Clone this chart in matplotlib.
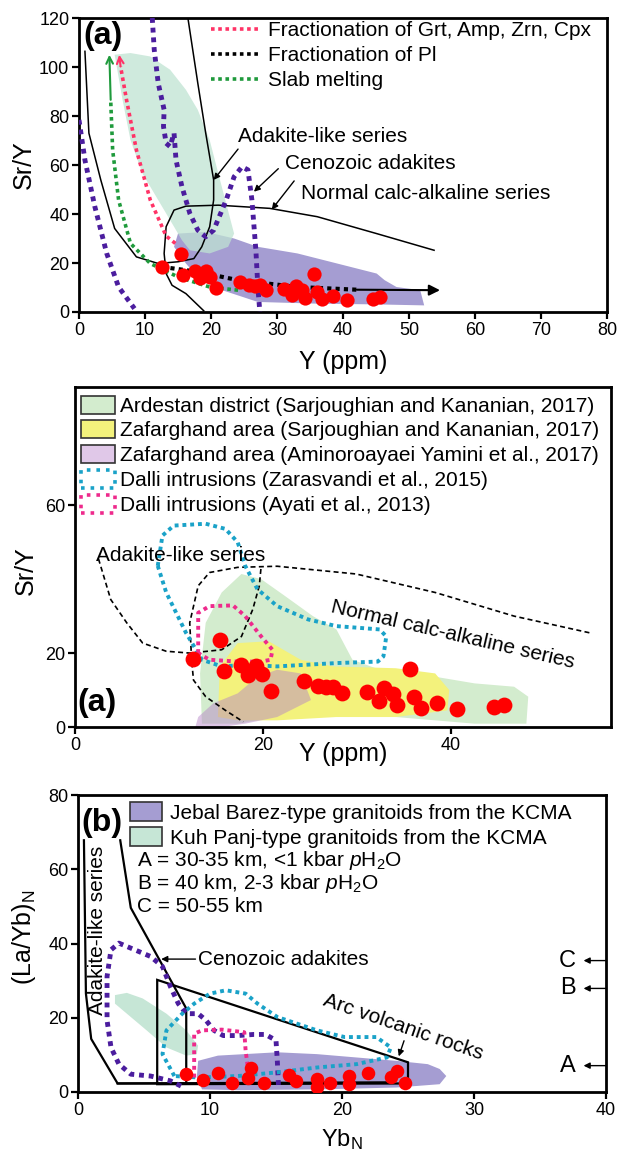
import matplotlib.pyplot as plt
from matplotlib.patches import Polygon, Patch
from matplotlib.lines import Line2D

plt.rcParams['font.family'] = ['Liberation Sans', 'DejaVu Sans']
plt.rcParams['mathtext.fontset'] = 'custom'
plt.rcParams['mathtext.rm'] = 'Liberation Sans'
plt.rcParams['mathtext.it'] = 'Liberation Sans:italic'
plt.rcParams['mathtext.bf'] = 'Liberation Sans:bold'

# --- samples, Sr/Y vs Y ---
y_ppm = [12.5, 15.4, 15.8, 17.6, 18.4, 19.2, 19.9, 20.8, 24.4, 25.8, 26.7, 27.4,
         28.4, 31.0, 32.3, 32.9, 33.8, 34.2, 35.6, 36.0, 36.8, 38.5, 40.6, 44.6, 45.6]
sr_y = [18.5, 23.6, 15.2, 16.8, 14.0, 16.6, 14.3, 9.8, 12.4, 11.2, 10.8, 10.9,
        9.1, 9.5, 7.0, 10.5, 8.8, 5.9, 15.7, 8.2, 5.2, 6.6, 5.0, 5.4, 6.0]

# --- samples, (La/Yb)N vs YbN ---
yb_n = [8.2, 9.5, 10.6, 11.7, 12.9, 13.1, 14.1, 16.0, 16.5, 18.1, 18.1, 19.1,
        20.5, 20.5, 22.0, 23.7, 24.2, 24.8]
la_yb_n = [4.8, 3.2, 5.1, 2.5, 3.9, 6.4, 2.5, 4.5, 3.0, 3.4, 1.4, 2.4,
           4.3, 2.1, 5.0, 4.1, 5.7, 2.3]

# --- top panel fields (Y, Sr/Y) ---
kuhpanj_a = [(5.4, 105), (7.8, 105.7), (10.8, 104.3), (13.8, 98.9), (16.2, 90.7),
             (18.0, 82.5), (19.8, 70.2), (21.1, 56.6), (22.3, 44.3), (23.5, 32),
             (22.6, 26.6), (19.8, 23.9), (16.8, 25.2), (15.6, 29.3), (14.4, 34.8),
             (12, 45.7), (9.6, 56.6), (7.8, 70.2), (6.6, 86.6)]
jebal_a = [(15.0, 32.0), (19.2, 32.7), (23.5, 30), (27.1, 26.6), (33.1, 23.9),
           (39.1, 19.8), (45.1, 15.7), (46.3, 13), (48.1, 10.2), (51.7, 8.9),
           (52.3, 2.7), (45.1, 3.1), (36.1, 3.4), (27.1, 4.1), (21.7, 8.9),
           (18, 14.3), (16.2, 19.8), (14.4, 26.6)]
adakite_a = [(0.9, 106.4), (1.5, 73), (3.3, 53.9), (5.4, 34.1), (8.7, 22.5),
             (12, 19.8), (15, 20.5), (17.4, 21.8), (18.6, 26.6), (19.8, 34.8),
             (20.4, 45.7), (20.4, 53.9), (19.2, 73), (18, 93.4), (16.5, 120)]
calcalk_a = [(53.8, 25.2), (45.1, 32), (36.1, 38.9), (28.9, 42.3), (21.1, 43.6),
             (16.2, 43.2), (14.4, 41.6), (13.2, 34.8), (12.9, 23.9), (13.2, 15.7),
             (14.1, 10.9), (16.2, 7.5), (18.9, 0.5)]
ceno_left_a = [(0, 78.4), (0.9, 62), (2.4, 43), (4.2, 23.9), (6, 10.2), (8.4, 1.4)]
ceno_right_a = [(11.1, 120), (11.4, 107), (12, 93.4), (12.9, 82.5), (12.8, 75.7),
                (13.2, 68.9), (13.8, 67.5), (14.4, 73), (14.7, 62), (15.6, 51.1),
                (16.8, 40.2), (18, 33.4), (19.2, 30.7), (20.4, 33.4), (22.3, 45.7),
                (23.5, 55.2), (24.7, 59.3), (25.6, 58), (26.2, 45.7), (26.8, 25.2),
                (27.1, 10.2), (27.4, 0)]
grt_trend = [(14.6, 28), (13.2, 31), (10.8, 45.7), (8.7, 66.1), (7.2, 86.6),
             (6.3, 100.2), (6.1, 105)]
slab_trend = [(24.1, 8.9), (19.8, 10.2), (15, 14.3), (10.8, 19.8), (7.8, 28),
              (6, 45.7), (5.1, 66.1), (4.8, 86.6), (4.6, 105)]
pl_trend = [(12.6, 18.4), (18, 16.4), (24.1, 13), (33.1, 10.2), (42.1, 9.1), (54.7, 8.9)]

# --- middle panel fields (Y, Sr/Y) ---
ardestan = [(13.5, 0.9), (13.3, 14.5), (13.9, 28.2), (15.6, 36.4), (17.7, 41.4),
            (19.8, 40), (22.3, 35.5), (25.3, 30), (27.8, 26.4), (29.5, 18.2),
            (32.4, 15.5), (38.3, 13.6), (42.5, 11.8), (46.7, 10.9), (48.2, 8.2),
            (48, 0.9), (42.5, 0.9), (38.3, 1.8), (29.9, 3.6), (21.5, 2.7), (17.3, 0.9)]
zafar_sk = [(15.2, 2.7), (15.4, 16.4), (17.3, 22.7), (20.6, 23.2), (24, 18.2),
            (27.4, 16.4), (34.1, 15.9), (38.3, 14.5), (39.8, 10), (39.6, 4.5),
            (34.1, 2.7), (27.8, 2.7), (21.5, 1.8), (17.3, 1.8)]
zafar_ay = [(12.8, 0), (13.1, 2.7), (14.7, 6.4), (17.3, 9.1), (19.4, 13.6),
            (21.5, 15.5), (24, 14.5), (25.1, 7.3), (21.5, 2.7), (18.1, 0.9), (15.6, 0)]
dalli_z = [(8.8, 43.6), (9.3, 51.8), (10.5, 54.5), (13.9, 55), (16, 53.6), (17.3, 50),
           (18.1, 43.6), (19.4, 37.3), (21.5, 32.7), (24.8, 29.1), (27.8, 27.3),
           (32.4, 26.4), (33.1, 24.5), (32.8, 19.1), (32.2, 17.7), (27.8, 17.3),
           (21.5, 16.4), (18.1, 16.8), (15.6, 16.4), (13.5, 18.2), (11.8, 25.5),
           (9.7, 36.4)]
dalli_a = [(13.1, 20), (13.1, 30.9), (14.3, 32.7), (16.8, 32.9), (18.1, 30),
           (19.8, 24.5), (21, 20.9), (20.8, 18.2), (19.8, 17.7), (17.3, 17.7),
           (14.3, 18.2)]
adakite_b = [(2.5, 45.5), (3.8, 34.5), (5.5, 28.2), (7.2, 22.7), (9.7, 20.5),
             (12.2, 20), (15.6, 20.9), (17.7, 24.5), (18.9, 31.8), (19.6, 38.2),
             (19.8, 43.6)]
calcalk_b = [(54.7, 25.5), (46.7, 30), (38.3, 36.4), (29.9, 41.4), (21.5, 43.5),
             (17.3, 43.2), (14.3, 41.8), (13.1, 38.2), (12.2, 28.2), (12.4, 18.2),
             (12.6, 12.7), (13.9, 8.2), (16, 4.5), (17.9, 1.4)]

# --- bottom panel fields (YbN, (La/Yb)N) ---
jebal_c = [(9.1, 8.4), (10.6, 9.8), (15.1, 10.7), (18.1, 10.2), (21.1, 9.3),
           (24.1, 8.4), (26.5, 7.5), (27.4, 6.2), (27.9, 4.3), (27.4, 2.1),
           (24.1, 1.2), (18.1, 0.7), (12.1, 0.5), (9.4, 0.7), (9, 3.9)]
kuhpanj_c = [(2.8, 26.1), (3.7, 26.7), (4.9, 25.2), (6.7, 21.1), (8.2, 16.6),
             (9.1, 12.5), (9, 10.2), (8.2, 9.8), (6.7, 12), (5.2, 16.6),
             (3.7, 21.1), (2.8, 23.8)]
adakite_c = [(0.45, 67.8), (0.6, 26.5), (1, 14.3), (3, 2.3), (8.2, 2.3),
             (8.2, 22.5), (4, 49.6), (3.2, 67.8)]
arc_c = [(6, 2.1), (6, 30.2), (25, 8), (25, 2.3)]
arc_base = [(3, 2.3), (23.7, 2.6)]
ceno_c = [(7.8, 1.6), (7, 3), (5.5, 4.3), (4, 4.8), (3.1, 7.5), (2.5, 12),
          (2.2, 19.3), (2.2, 31.1), (2.5, 38.3), (3.1, 40.1), (4.3, 38.3),
          (5.5, 36.5), (6.4, 33.8), (7, 28.4), (7.6, 23.8), (8.2, 21.1),
          (9.1, 21.1), (9.7, 19.3), (10.3, 16.6), (11, 15.2), (12.1, 15.2),
          (13.3, 15.5), (14.2, 15.5), (15, 13.9), (15.1, 8.4), (15.2, 0.7)]
dalli_z_c = [(7.3, 4.3), (6.4, 10.2), (6.7, 16.6), (7.9, 21.1), (8.8, 23.8),
             (10, 26.5), (11.2, 27.4), (12.7, 26.5), (13.6, 23.8), (15.1, 20.2),
             (18.1, 16.6), (20.2, 14.8), (22.6, 14.8), (23.7, 12), (23.4, 9.3),
             (21.1, 7.5), (18.1, 6.6), (15.1, 5.3), (12.1, 4.3), (9.1, 3.9)]
dalli_a_c = [(8.8, 3.9), (8.8, 15.7), (9.4, 16.6), (10.9, 16.8), (12.6, 16.1),
             (12.7, 11.1), (12.9, 5.7)]
depth_labels = ['C', 'B', 'A']
depth_values = [35.4, 27.9, 7.1]

PURPLE = '#4b1d9e'
RED_PT = '#ff0000'
DOT = (0, (1, 1))
FS = 15


def xy(pts):
    return [p[0] for p in pts], [p[1] for p in pts]


def dotted(ax, pts, color, lw=3.2, closed=False):
    xs, ys = xy(pts)
    if closed:
        xs, ys = xs + xs[:1], ys + ys[:1]
    ax.plot(xs, ys, color=color, lw=lw, ls=DOT, dash_capstyle='butt', zorder=3)


def arrow_end(ax, pts, color, style='-|>', lw=1.5, scale=14):
    ax.annotate('', xy=pts[-1], xytext=pts[-2],
                arrowprops=dict(arrowstyle=style, color=color, lw=lw,
                                mutation_scale=scale, shrinkA=0, shrinkB=0), zorder=4)


def pointer(ax, start, end):
    ax.annotate('', xy=end, xytext=start,
                arrowprops=dict(arrowstyle='-|>', color='black', lw=1,
                                mutation_scale=9, shrinkA=0, shrinkB=0))


def style_axes(ax):
    for s in ax.spines.values():
        s.set_linewidth(2)
    ax.tick_params(direction='out', length=5, width=1.6, labelsize=13, pad=2)


def px_axes(fig, left, top, right, bottom):
    W, H = 621, 1151
    return fig.add_axes([left / W, 1 - bottom / H, (right - left) / W, (bottom - top) / H])


fig = plt.figure(figsize=(6.21, 11.51), dpi=100)

# ---------------- top panel ----------------
ax1 = px_axes(fig, 79, 18, 607, 312)
ax1.add_patch(Polygon(jebal_a, closed=True, fc='#a59dd2', ec='none', zorder=1))
ax1.add_patch(Polygon(kuhpanj_a, closed=True, fc='#bfe3d2', ec='none', alpha=0.75, zorder=1.5))
xs, ys = xy(adakite_a)
ax1.plot(xs, ys, color='black', lw=1.1, zorder=2)
xs, ys = xy(calcalk_a)
ax1.plot(xs, ys, color='black', lw=1.1, zorder=2)
dotted(ax1, ceno_left_a, PURPLE, lw=3.5)
dotted(ax1, ceno_right_a, PURPLE, lw=3.5)
dotted(ax1, grt_trend[:-1], '#ff3366', lw=2.6)
arrow_end(ax1, grt_trend[-2:], '#ff3366', style='->', lw=1.5, scale=12)
dotted(ax1, slab_trend[:-1], '#1f9a3c', lw=2.6)
arrow_end(ax1, slab_trend[-2:], '#1f9a3c', style='->', lw=1.5, scale=12)
dotted(ax1, pl_trend[:-1], 'black', lw=3)
arrow_end(ax1, [pl_trend[-2], pl_trend[-1]], 'black', style='-|>', lw=1.5, scale=16)
ax1.scatter(y_ppm, sr_y, s=105, color=RED_PT, zorder=5, linewidths=0)

ax1.text(24.1, 71.6, 'Adakite-like series', fontsize=FS, va='center')
pointer(ax1, (24.1, 66.5), (20.4, 53.9))
ax1.text(31.2, 60.7, 'Cenozoic adakites', fontsize=FS, va='center')
pointer(ax1, (30.2, 58.5), (26.5, 49.1))
ax1.text(33.6, 48.3, 'Normal calc-alkaline series', fontsize=FS, va='center')
pointer(ax1, (32.6, 53.5), (29.2, 41.8))
ax1.text(0.7, 112.5, '(a)', fontsize=23, fontweight='bold', va='center')

h1 = [Line2D([], [], color='#ff3366', lw=2.6, ls=DOT),
      Line2D([], [], color='black', lw=2.6, ls=DOT),
      Line2D([], [], color='#1f9a3c', lw=2.6, ls=DOT)]
ax1.legend(h1, ['Fractionation of Grt, Amp, Zrn, Cpx', 'Fractionation of Pl', 'Slab melting'],
           loc='upper left', bbox_to_anchor=(0.25, 0.99), frameon=False, fontsize=FS,
           handlelength=2.3, handletextpad=0.43, labelspacing=0.3, borderpad=0,
           borderaxespad=0)

ax1.set_xlim(0, 80)
ax1.set_ylim(0, 120)
ax1.set_xticks(range(0, 81, 10))
ax1.set_yticks(range(0, 121, 20))
style_axes(ax1)
ax1.set_ylabel('Sr/Y', fontsize=18)
ax1.yaxis.set_label_coords(-0.081, 0.5)
ax1.set_xlabel('Y (ppm)', fontsize=18)
ax1.xaxis.set_label_coords(0.5, -0.128)

# ---------------- middle panel ----------------
ax2 = px_axes(fig, 75, 387, 611, 727)
ax2.add_patch(Polygon(ardestan, closed=True, fc='#d3ecce', ec='none', zorder=1))
ax2.add_patch(Polygon(zafar_sk, closed=True, fc='#f3f27c', ec='none', zorder=1.2))
ax2.add_patch(Polygon(zafar_ay, closed=True, fc='#b684c7', ec='none', alpha=0.48, zorder=1.4))
xs, ys = xy(adakite_b)
ax2.plot(xs, ys, color='black', lw=1.2, ls=(0, (3, 2)), zorder=2)
xs, ys = xy(calcalk_b)
ax2.plot(xs, ys, color='black', lw=1.2, ls=(0, (3, 2)), zorder=2)
dotted(ax2, dalli_z, '#1aa2c8', lw=2.8, closed=True)
dotted(ax2, dalli_a, '#ee2a8c', lw=2.8, closed=True)
ax2.scatter(y_ppm, sr_y, s=130, color=RED_PT, zorder=5, linewidths=0)

ax2.text(2.2, 46.4, 'Adakite-like series', fontsize=FS, va='center')
ax2.text(40.2, 25.0, 'Normal calc-alkaline series', fontsize=FS, rotation=-13,
         ha='center', va='center', rotation_mode='anchor')
ax2.text(0.3, 6.5, '(a)', fontsize=23, fontweight='bold', va='center')

h2 = [Patch(fc='#d3ecce', ec='#333333', lw=1.2),
      Patch(fc='#f3f27c', ec='#333333', lw=1.2),
      Patch(fc='#e0c8e8', ec='#333333', lw=1.2),
      Patch(fc='none', ec='#1aa2c8', lw=2.6, ls=':'),
      Patch(fc='none', ec='#ee2a8c', lw=2.6, ls=':')]
ax2.legend(h2, ['Ardestan district (Sarjoughian and Kananian, 2017)',
                'Zafarghand area (Sarjoughian and Kananian, 2017)',
                'Zafarghand area (Aminoroayaei Yamini et al., 2017)',
                'Dalli intrusions (Zarasvandi et al., 2015)',
                'Dalli intrusions (Ayati et al., 2013)'],
           loc='upper left', bbox_to_anchor=(0.011, 0.975), frameon=False, fontsize=FS,
           handlelength=1.63, handleheight=0.96, handletextpad=0.25, labelspacing=0.22,
           borderpad=0, borderaxespad=0)

ax2.set_xlim(0, 57)
ax2.set_ylim(0, 92)
ax2.set_xticks([0, 20, 40])
ax2.set_yticks([0, 20, 60])
style_axes(ax2)
ax2.set_ylabel('Sr/Y', fontsize=18)
ax2.yaxis.set_label_coords(-0.069, 0.46)
ax2.set_xlabel('Y (ppm)', fontsize=18)
ax2.xaxis.set_label_coords(0.5, -0.044)

# ---------------- bottom panel ----------------
ax3 = px_axes(fig, 78, 795, 606, 1092)
ax3.add_patch(Polygon(jebal_c, closed=True, fc='#a59dd2', ec='none', zorder=1))
ax3.add_patch(Polygon(kuhpanj_c, closed=True, fc='#c6e6d6', ec='none', zorder=1))
xs, ys = xy(adakite_c)
ax3.plot(xs, ys, color='black', lw=1.6, zorder=2)
ax3.add_patch(Polygon(arc_c, closed=True, fc='none', ec='black', lw=1.6, zorder=2))
xs, ys = xy(arc_base)
ax3.plot(xs, ys, color='black', lw=1.6, zorder=2)
dotted(ax3, ceno_c, PURPLE, lw=3.5)
dotted(ax3, dalli_z_c, '#1aa2c8', lw=2.8, closed=True)
dotted(ax3, dalli_a_c, '#ee2a8c', lw=2.8)
ax3.scatter(yb_n, la_yb_n, s=95, color=RED_PT, zorder=5, linewidths=0)

ax3.text(9.1, 35.8, 'Cenozoic adakites', fontsize=FS, va='center')
pointer(ax3, (8.9, 35.8), (6.3, 35.8))
ax3.text(24.6, 17.4, 'Arc volcanic rocks', fontsize=FS, rotation=-19,
         ha='center', va='center', rotation_mode='anchor')
pointer(ax3, (24.7, 13.8), (24.3, 9.6))
ax3.text(1.5, 43.5, 'Adakite-like series', fontsize=FS, rotation=90,
         ha='center', va='center')
ax3.text(0.25, 72.5, '(b)', fontsize=23, fontweight='bold', va='center')
ax3.text(4.5, 62.3, r'A = 30-35 km, <1 kbar $\mathit{p}$H$_2$O', fontsize=FS, va='center')
ax3.text(4.5, 56.1, r'B = 40 km, 2-3 kbar $\mathit{p}$H$_2$O', fontsize=FS, va='center')
ax3.text(4.5, 50.1, 'C = 50-55 km', fontsize=FS, va='center')
for lab, val in zip(depth_labels, depth_values):
    ax3.text(37.1, val, lab, fontsize=17, ha='center', va='center')
    ax3.annotate('', xy=(38.3, val), xytext=(40, val),
                 arrowprops=dict(arrowstyle='-|>', color='black', lw=1,
                                 mutation_scale=9, shrinkA=0, shrinkB=0))

h3 = [Patch(fc='#a59dd2', ec='#333333', lw=1.2),
      Patch(fc='#c6e6d6', ec='#333333', lw=1.2)]
ax3.legend(h3, ['Jebal Barez-type granitoids from the KCMA',
                'Kuh Panj-type granitoids from the KCMA'],
           loc='upper left', bbox_to_anchor=(0.098, 0.975), frameon=False, fontsize=FS,
           handlelength=1.55, handleheight=1.0, handletextpad=0.38, labelspacing=0.2,
           borderpad=0, borderaxespad=0)

ax3.set_xlim(0, 40)
ax3.set_ylim(0, 80)
ax3.set_xticks(range(0, 41, 10))
ax3.set_yticks(range(0, 81, 20))
style_axes(ax3)
ax3.set_ylabel(r'(La/Yb)$_\mathrm{N}$', fontsize=18)
ax3.yaxis.set_label_coords(-0.076, 0.52)
ax3.set_xlabel(r'Yb$_\mathrm{N}$', fontsize=17)
ax3.xaxis.set_label_coords(0.5, -0.118)

fig.savefig('out.png', dpi=100)
